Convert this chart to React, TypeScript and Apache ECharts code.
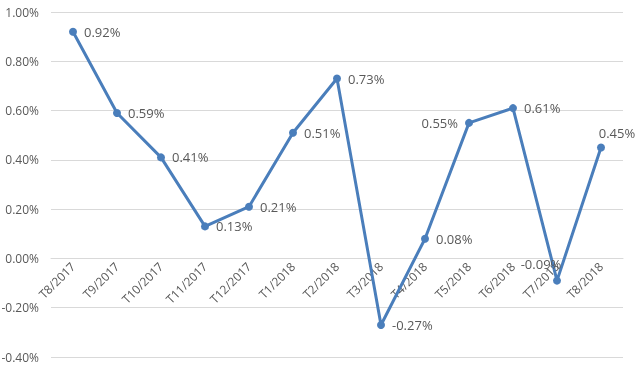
import React, { useEffect, useRef } from "react";
import * as echarts from "echarts";

const categories = ["T8/2017", "T9/2017", "T10/2017", "T11/2017", "T12/2017", "T1/2018", "T2/2018", "T3/2018", "T4/2018", "T5/2018", "T6/2018", "T7/2018", "T8/2018"];
const values = [0.92, 0.59, 0.41, 0.13, 0.21, 0.51, 0.73, -0.27, 0.08, 0.55, 0.61, -0.09, 0.45];
const labelPositions = ["right", "right", "right", "right", "right", "right", "right", "right", "right", "left", "right", "top", "top"];
const labelOffsets = [[0, 0], [0, 0], [0, 0], [0, 0], [0, 0], [0, 0], [0, 0], [0, 0], [0, 0], [0, 0], [0, 0], [-16, 1], [16, 3]];

const Y_MIN = -0.4;
const Y_MAX = 1.0;

export default function App() {
  const ref = useRef<HTMLDivElement>(null);
  useEffect(() => {
    const chart = echarts.init(ref.current!, null, { renderer: "svg" });
    const font = "'Open Sans', 'Liberation Sans', sans-serif";
    const gridTop = 12;
    const gridBottom = 10;
    const gridH = 367 - gridTop - gridBottom;
    const zeroFromBottom = (gridH * (0 - Y_MIN)) / (Y_MAX - Y_MIN);
    chart.setOption({
      animation: false,
      grid: { left: 51, right: 17, top: gridTop, bottom: gridBottom, containLabel: false, outerBoundsMode: "none" },
      xAxis: {
        type: "category",
        data: categories,
        boundaryGap: true,
        offset: -zeroFromBottom,
        axisLine: { onZero: false, lineStyle: { color: "#d9d9d9", width: 1 } },
        axisTick: { show: false },
        axisLabel: { rotate: 45, color: "#595959", fontSize: 12, fontFamily: font, margin: 6, interval: 0 },
        splitLine: { show: false },
      },
      yAxis: {
        type: "value",
        min: Y_MIN,
        max: Y_MAX,
        interval: 0.2,
        axisLine: { show: false },
        axisTick: { show: false },
        axisLabel: { color: "#595959", fontSize: 12, fontFamily: font, margin: 12, formatter: (v: number) => v.toFixed(2) + "%" },
        splitLine: { lineStyle: { color: "#d9d9d9", width: 1 } },
      },
      series: [
        {
          type: "line",
          data: values.map((v, i) => ({
            value: v,
            label: { position: labelPositions[i], offset: labelOffsets[i] },
          })),
          symbol: "circle",
          symbolSize: 8,
          lineStyle: { color: "#4a7ebb", width: 3 },
          itemStyle: { color: "#4a7ebb" },
          label: {
            show: true,
            color: "#595959",
            fontSize: 13,
            fontFamily: font,
            distance: 7,
            formatter: (p: any) => p.value.toFixed(2) + "%",
          },
        },
      ],
    });
    return () => chart.dispose();
  }, []);
  return <div ref={ref} style={{ position: "fixed", left: 0, top: 0, width: 640, height: 367 }} />;
}
